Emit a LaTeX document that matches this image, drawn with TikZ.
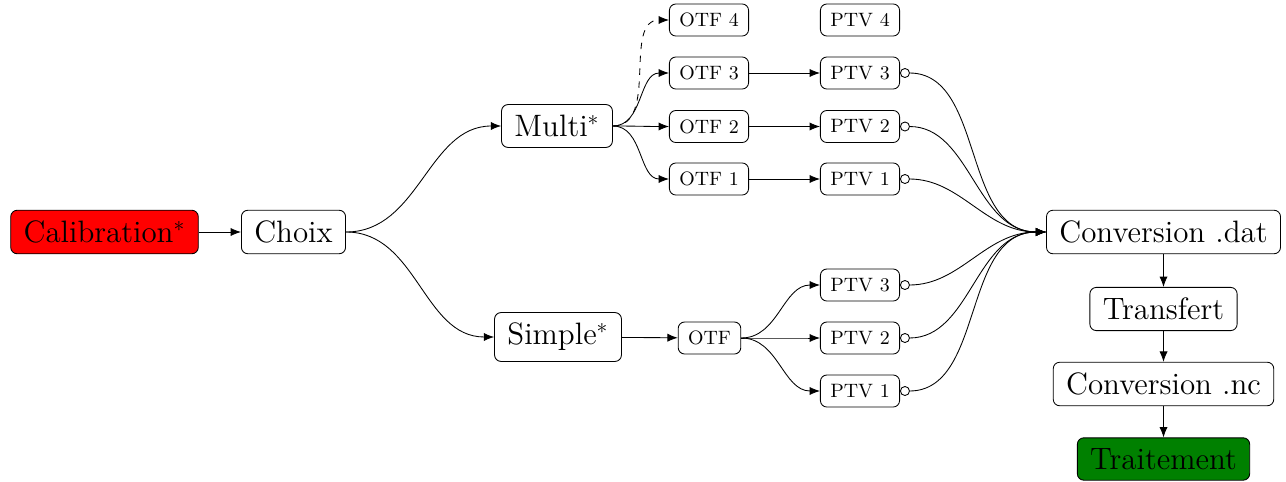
\documentclass[tikz,border=0pt]{standalone}
\usetikzlibrary{arrows.meta}
\begin{document}
\begin{tikzpicture}[x=0.4651pt,y=-0.4651pt,
  big/.style={draw,rounded corners=3pt,font=\Large,inner xsep=6pt,inner ysep=4.9pt},
  small/.style={draw,rounded corners=3pt,font=\small,inner xsep=4.6pt,minimum height=14.9pt},
  link/.style={-{Latex[length=4.8pt,width=3.8pt]}},
  curve/.style={link,out=0,in=180},
  ptvlink/.style={{Circle[open,length=4.6pt]}-{Latex[length=4.8pt,width=3.8pt]},out=0,in=180}]
  \useasboundingbox (0,0) rectangle (1286,481);
  % main chain
  \node[big,fill=red] (calib) at (104.5,232) {Calibration$^*$};
  \node[big] (choix) at (293.5,232) {Choix};
  \node[big] (multi) at (557,126) {Multi$^*$};
  \node[big] (simple) at (558,337) {Simple$^*$};
  \node[big] (convdat) at (1163.5,232) {Conversion .dat};
  \node[big] (transfert) at (1163.5,309) {Transfert};
  \node[big] (convnc) at (1163.5,384) {Conversion .nc};
  \node[big,fill=green!50!black] (traitement) at (1163.5,459) {Traitement};
  \draw[link] (calib) -- (choix);
  \draw[curve] (choix.east) to (multi.west);
  \draw[curve] (choix.east) to (simple.west);
  \draw[link] (convdat) -- (transfert);
  \draw[link] (transfert) -- (convnc);
  \draw[link] (convnc) -- (traitement);
  % multi: one otf per ptv
  \foreach \i/\y in {1/179, 2/126.5, 3/73, 4/20} {
    \node[small] (otf\i) at (709,\y) {OTF \i};
    \node[small] (ptv\i) at (860,\y) {PTV \i};
  }
  \draw[curve,dashed] (multi.east) to (otf4.west);
  \foreach \i in {1,2,3} {
    \draw[curve] (multi.east) to (otf\i.west);
    \draw[link] (otf\i) -- (ptv\i);
    \draw[ptvlink] (ptv\i.east) to (convdat.west);
  }
  % simple: one otf, three ptv
  \node[small] (otf) at (709.5,338) {OTF};
  \draw[link] (simple) -- (otf);
  \foreach \i/\y in {1/391, 2/338, 3/285} {
    \node[small] (sptv\i) at (860,\y) {PTV \i};
    \draw[curve] (otf.east) to (sptv\i.west);
    \draw[ptvlink] (sptv\i.east) to (convdat.west);
  }
\end{tikzpicture}
\end{document}
